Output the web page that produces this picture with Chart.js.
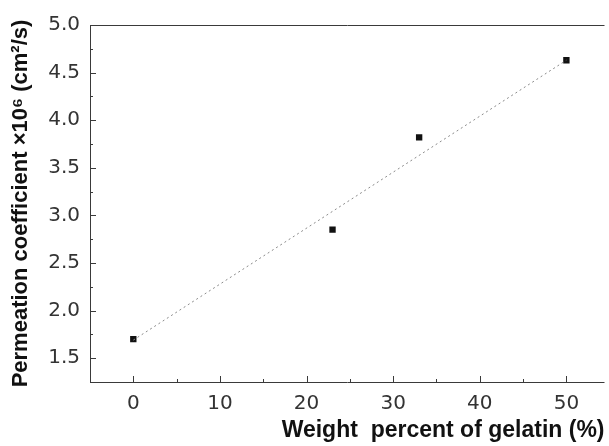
<!DOCTYPE html>
<html>
<head>
<meta charset="utf-8">
<script src="https://cdn.jsdelivr.net/npm/chart.js@4/dist/chart.umd.min.js"></script>
<style>
  html, body { margin: 0; padding: 0; background: #fff; }
  #wrap { width: 609px; height: 446px; }
</style>
</head>
<body>
<div id="wrap"><canvas id="myChart" width="609" height="446"></canvas></div>
<script>
// measured points (weight % gelatin vs permeation coefficient x10^6)
var gelatin = [0, 23, 33, 50];
var permeation = [1.70, 2.85, 3.82, 4.63];
// linear fit line end points
var fitX = [0, 50];
var fitY = [1.69, 4.63];
var xTicks = [0, 10, 20, 30, 40, 50];
var yTicks = [1.5, 2.0, 2.5, 3.0, 3.5, 4.0, 4.5, 5.0];

var points = gelatin.map(function (g, i) {
  return { x: g, y: permeation[i] };
});
var fit = fitX.map(function (g, i) {
  return { x: g, y: fitY[i] };
});

// frame with inward major/minor ticks, drawn through the chart scales
var frame = {
  id: "frame",
  afterDatasetsDraw: function (chart) {
    var ctx = chart.ctx;
    var a = chart.chartArea;
    var xs = chart.scales.x;
    var ys = chart.scales.y;
    ctx.save();
    ctx.strokeStyle = "#3a3a3a";
    ctx.lineWidth = 1;
    ctx.beginPath();
    ctx.moveTo(a.right, a.top + 0.5);
    ctx.lineTo(a.left + 0.5, a.top + 0.5);
    ctx.lineTo(a.left + 0.5, a.bottom + 0.5);
    ctx.lineTo(a.right, a.bottom + 0.5);
    ctx.stroke();

    ctx.beginPath();
    xTicks.forEach(function (v) {
      var px = Math.round(xs.getPixelForValue(v)) + 0.5;
      ctx.moveTo(px, a.bottom);
      ctx.lineTo(px, a.bottom - 6);
      var mx = Math.round(xs.getPixelForValue(v + 5)) + 0.5;
      if (v + 5 < xs.max) {
        ctx.moveTo(mx, a.bottom);
        ctx.lineTo(mx, a.bottom - 3);
      }
    });
    yTicks.forEach(function (v) {
      var py = Math.round(ys.getPixelForValue(v)) + 0.5;
      ctx.moveTo(a.left, py);
      ctx.lineTo(a.left + 6, py);
      var my = Math.round(ys.getPixelForValue(v - 0.25)) + 0.5;
      ctx.moveTo(a.left, my);
      ctx.lineTo(a.left + 3, my);
    });
    ctx.stroke();
    ctx.restore();
  }
};

var ctx = document.getElementById("myChart").getContext("2d");
var chart = new Chart(ctx, {
  type: "scatter",
  data: {
    datasets: [
      {
        data: fit,
        showLine: true,
        borderColor: "#8a8a8a",
        borderWidth: 1,
        borderDash: [2, 3],
        pointRadius: 0,
        fill: false
      },
      {
        data: points,
        pointStyle: "rect",
        pointRadius: 4.5,
        backgroundColor: "#111",
        borderColor: "#111",
        borderWidth: 0
      }
    ]
  },
  options: {
    responsive: false,
    animation: false,
    layout: { padding: { top: 25, right: 1, left: 0, bottom: 0 } },
    plugins: {
      legend: { display: false },
      tooltip: { enabled: false }
    },
    scales: {
      x: {
        type: "linear",
        min: -5,
        max: 54.4,
        grid: { display: false, drawTicks: false },
        border: { display: false },
        afterBuildTicks: function (s) {
          s.ticks = xTicks.map(function (v) { return { value: v }; });
        },
        afterFit: function (s) { s.height = 64; },
        ticks: {
          padding: 10,
          color: "#333",
          font: { family: "DejaVu Sans", size: 20 },
          maxRotation: 0
        },
        title: {
          display: true,
          text: "Weight  percent of gelatin (%)",
          align: "end",
          color: "#111",
          font: { family: "Liberation Sans, Arial", size: 23, weight: "bold" },
          padding: { top: 2, bottom: 2 }
        }
      },
      y: {
        type: "linear",
        min: 1.25,
        max: 5.0,
        grid: { display: false, drawTicks: false },
        border: { display: false },
        afterBuildTicks: function (s) {
          s.ticks = yTicks.map(function (v) { return { value: v }; });
        },
        afterFit: function (s) { s.width = 90; },
        ticks: {
          padding: 10,
          color: "#333",
          font: { family: "DejaVu Sans", size: 20 },
          callback: function (v) { return v.toFixed(1); }
        },
        title: {
          display: true,
          text: "Permeation coefficient \u00d710\u2076 (cm\u00b2/s)",
          color: "#111",
          font: { family: "Liberation Sans, Arial", size: 22, weight: "bold" },
          padding: { top: 8, bottom: 0 }
        }
      }
    }
  },
  plugins: [frame]
});
</script>
</body>
</html>
